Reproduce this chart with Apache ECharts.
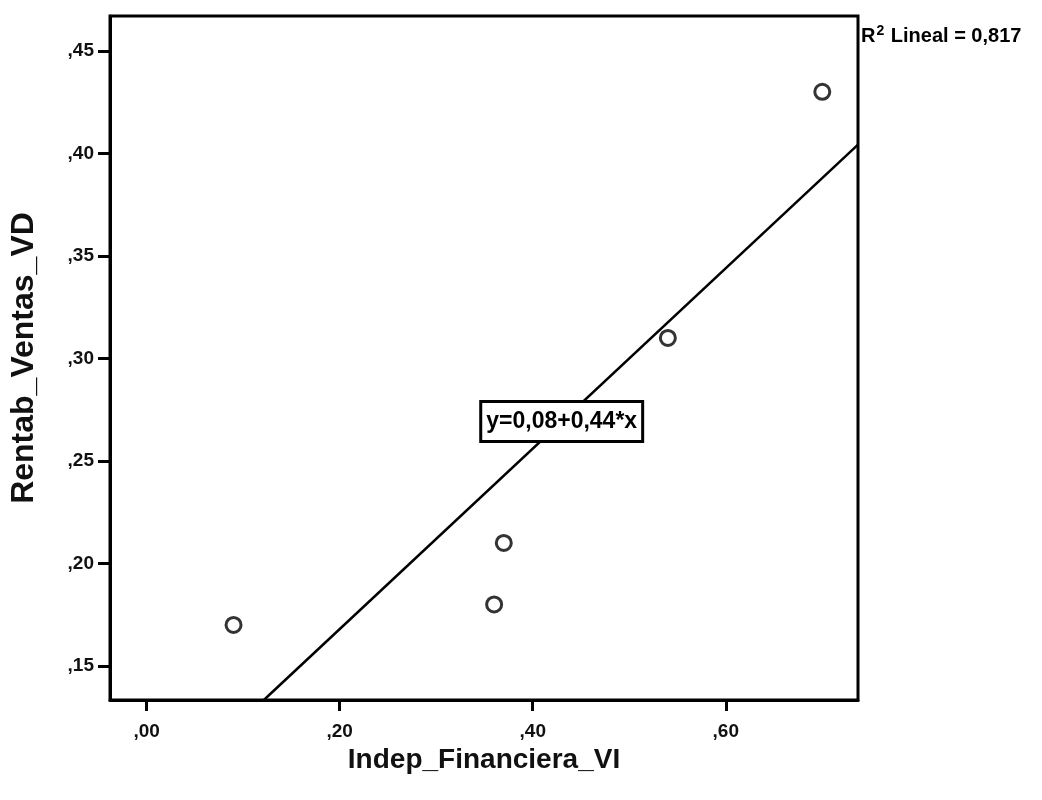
<!DOCTYPE html>
<html><head><meta charset="utf-8">
<script src="https://cdn.jsdelivr.net/npm/echarts@6/dist/echarts.min.js"></script>
<style>html,body{margin:0;padding:0;background:#fff}#c{width:1042px;height:800px}</style>
</head><body><div id="c"></div>
<script>
const indepFinanciera = [0.09, 0.36, 0.37, 0.54, 0.70];
const rentabVentas = [0.17, 0.18, 0.21, 0.31, 0.43];
const xTicks = [0.00, 0.20, 0.40, 0.60];
const yTicks = [0.15, 0.20, 0.25, 0.30, 0.35, 0.40, 0.45];
const fitIntercept = 0.08;
const fitSlope = 0.44;
const r2 = "0,817";
const xMin = -0.038, xMax = 0.737, yMin = 0.1334, yMax = 0.467;

const fmt = v => (Math.round(v * 100) / 100).toFixed(2).replace(/^0\./, ',').replace('.', ',');
const lineStartX = (yMin - fitIntercept) / fitSlope;
const fitLine = [[lineStartX, yMin], [xMax, fitIntercept + fitSlope * xMax]];
const labelX = 0.43;

const chart = echarts.init(document.getElementById('c'));
const font = 'Liberation Sans, Arial, sans-serif';
chart.setOption({
  animation: false,
  grid: { left: 110, right: 184, top: 16, bottom: 100, show: true, borderColor: '#000', borderWidth: 3 },
  xAxis: {
    type: 'value', min: xMin, max: xMax,
    name: 'Indep_Financiera_VI', nameLocation: 'middle', nameGap: 35,
    nameTextStyle: { fontFamily: font, fontWeight: 'bold', fontSize: 28, color: '#111' },
    axisLine: { onZero: false, lineStyle: { color: '#000', width: 3 } },
    splitLine: { show: false },
    axisTick: { customValues: xTicks, length: 11, lineStyle: { width: 3, color: '#000' } },
    axisLabel: { customValues: xTicks, formatter: fmt, fontFamily: font, fontWeight: 'bold', fontSize: 19, color: '#111', margin: 22 }
  },
  yAxis: {
    type: 'value', min: yMin, max: yMax,
    name: 'Rentab_Ventas_VD', nameLocation: 'middle', nameGap: 70, nameRotate: 90,
    nameTextStyle: { fontFamily: font, fontWeight: 'bold', fontSize: 32, color: '#111', padding: [0, 0, 0, 0] },
    axisLine: { onZero: false, lineStyle: { color: '#000', width: 3 } },
    splitLine: { show: false },
    axisTick: { customValues: yTicks, length: 12, lineStyle: { width: 3, color: '#000' } },
    axisLabel: { customValues: yTicks, formatter: fmt, fontFamily: font, fontWeight: 'bold', fontSize: 19, color: '#111', margin: 16 }
  },
  series: [
    {
      type: 'line', data: fitLine, symbol: 'none', silent: true,
      lineStyle: { color: '#000', width: 2.5 },
      markPoint: {
        symbol: 'rect', symbolSize: 1, itemStyle: { color: 'transparent' },
        data: [{ coord: [labelX, fitIntercept + fitSlope * labelX] }],
        label: {
          show: true, position: 'inside',
          formatter: 'y=0,08+0,44*x',
          fontFamily: font, fontSize: 23, fontWeight: 'bold', color: '#000',
          backgroundColor: '#fff', borderColor: '#000', borderWidth: 3,
          padding: [8, 4, 6, 4]
        }
      }
    },
    {
      type: 'scatter',
      data: indepFinanciera.map((x, i) => [x, rentabVentas[i]]),
      symbol: 'circle', symbolSize: 15,
      itemStyle: { color: '#fff', borderColor: '#000', borderWidth: 3 }
    }
  ],
  graphic: [{
    type: 'text', left: 861, top: 24,
    style: {
      text: '{a|R}{s|2}{a| Lineal = ' + r2 + '}',
      rich: {
        a: { fontFamily: font, fontSize: 20, fill: '#000', fontWeight: 'bold' },
        s: { fontFamily: font, fontSize: 14, fill: '#000', fontWeight: 'bold', verticalAlign: 'top', padding: [0, 1, 10, 1] }
      }
    }
  }]
});
</script></body></html>
